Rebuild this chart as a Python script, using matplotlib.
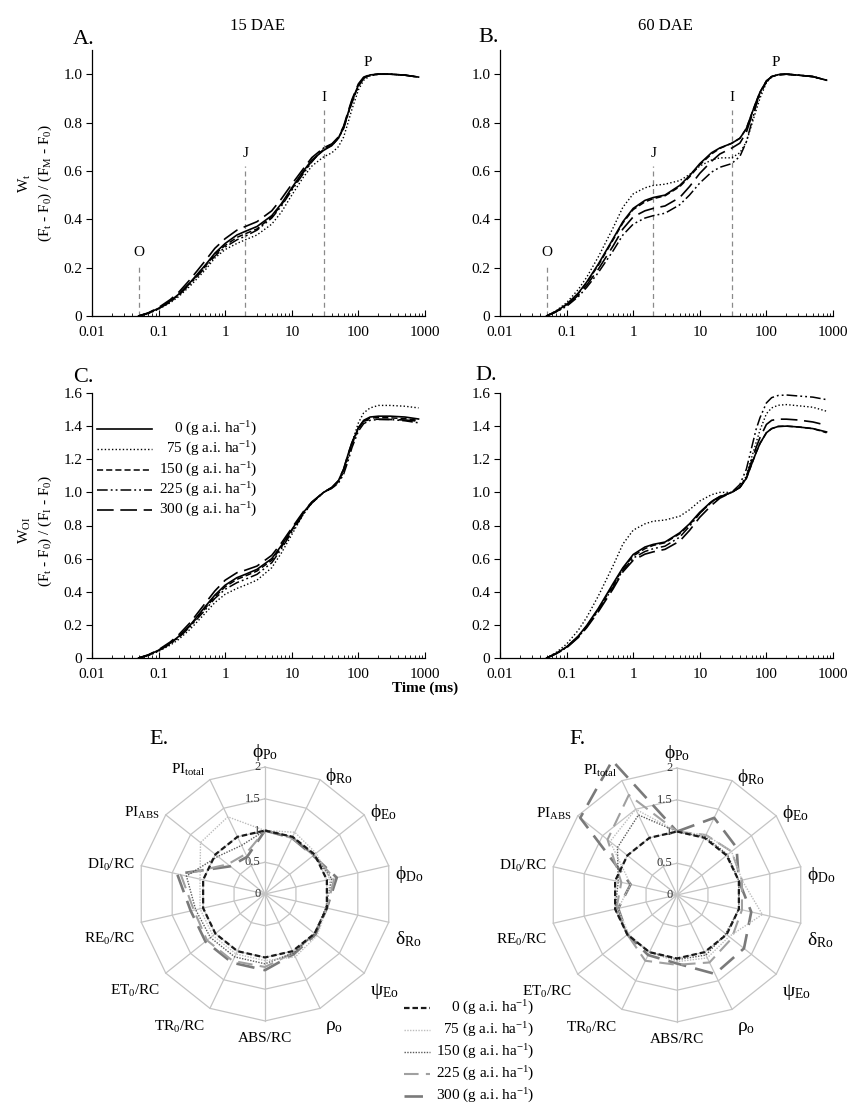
import matplotlib
matplotlib.use('Agg')
import numpy as np
import matplotlib.pyplot as plt
from matplotlib.lines import Line2D
from matplotlib.ticker import LogLocator, NullFormatter

plt.rcParams['font.family'] = ['Liberation Serif', 'DejaVu Serif']
plt.rcParams['mathtext.fontset'] = 'custom'
plt.rcParams['mathtext.rm'] = 'Liberation Serif'
plt.rcParams['mathtext.it'] = 'Liberation Serif'
plt.rcParams['mathtext.bf'] = 'Liberation Serif:bold'

# ---------------- DATA ----------------
doses = ['0', '75', '150', '225', '300']
time_ms = [0.05, 0.07, 0.1, 0.15, 0.2, 0.3, 0.5, 0.7, 1, 1.5, 2, 3, 5, 7, 10, 15, 20, 30,
           40, 50, 60, 70, 80, 100, 120, 150, 200, 300, 500, 800]

# Panel A: W_t, 15 DAE
a_0 = [0, 0.012, 0.032, 0.062, 0.09, 0.14, 0.21, 0.26, 0.30, 0.335, 0.35, 0.37, 0.415, 0.465, 0.53, 0.60, 0.645, 0.685,
       0.705, 0.735, 0.78, 0.84, 0.89, 0.955, 0.985, 0.997, 1.0, 1.0, 0.996, 0.988]
a_75 = [0, 0.010, 0.028, 0.055, 0.08, 0.125, 0.19, 0.24, 0.275, 0.30, 0.315, 0.335, 0.38, 0.43, 0.50, 0.575, 0.62, 0.658,
        0.675, 0.70, 0.74, 0.80, 0.855, 0.935, 0.975, 0.993, 1.0, 1.0, 0.996, 0.988]
a_150 = [0, 0.012, 0.030, 0.060, 0.088, 0.137, 0.205, 0.255, 0.292, 0.325, 0.34, 0.36, 0.41, 0.46, 0.525, 0.595, 0.64, 0.69,
         0.705, 0.735, 0.78, 0.838, 0.887, 0.952, 0.984, 0.996, 1.0, 1.0, 0.996, 0.988]
a_225 = [0, 0.011, 0.030, 0.058, 0.085, 0.133, 0.20, 0.248, 0.285, 0.315, 0.33, 0.355, 0.405, 0.455, 0.52, 0.59, 0.637, 0.695,
         0.71, 0.735, 0.775, 0.833, 0.882, 0.95, 0.983, 0.996, 1.0, 1.0, 0.996, 0.988]
a_300 = [0, 0.013, 0.035, 0.068, 0.098, 0.152, 0.228, 0.28, 0.32, 0.355, 0.37, 0.39, 0.435, 0.485, 0.545, 0.61, 0.655, 0.695,
         0.712, 0.74, 0.785, 0.845, 0.895, 0.96, 0.988, 0.998, 1.0, 1.0, 0.996, 0.988]

# Panel B: W_t, 60 DAE
b_0 = [0, 0.02, 0.048, 0.095, 0.14, 0.215, 0.32, 0.39, 0.445, 0.478, 0.49, 0.50, 0.54, 0.58, 0.63, 0.675, 0.695, 0.714,
       0.735, 0.775, 0.835, 0.885, 0.925, 0.972, 0.99, 0.998, 1.0, 0.996, 0.99, 0.975]
b_75 = [0, 0.022, 0.055, 0.11, 0.16, 0.245, 0.365, 0.45, 0.505, 0.53, 0.54, 0.545, 0.56, 0.585, 0.62, 0.645, 0.654, 0.654,
        0.675, 0.72, 0.79, 0.85, 0.90, 0.965, 0.988, 0.998, 1.0, 0.996, 0.99, 0.975]
b_150 = [0, 0.02, 0.047, 0.093, 0.137, 0.21, 0.315, 0.385, 0.44, 0.472, 0.485, 0.497, 0.535, 0.575, 0.625, 0.67, 0.693, 0.714,
         0.735, 0.775, 0.835, 0.885, 0.925, 0.972, 0.99, 0.998, 1.0, 0.996, 0.99, 0.975]
b_225 = [0, 0.017, 0.04, 0.08, 0.118, 0.18, 0.27, 0.335, 0.38, 0.405, 0.415, 0.425, 0.46, 0.50, 0.55, 0.595, 0.615, 0.63,
         0.66, 0.72, 0.80, 0.87, 0.915, 0.97, 0.99, 0.998, 1.0, 0.996, 0.99, 0.975]
b_300 = [0, 0.018, 0.043, 0.086, 0.127, 0.194, 0.29, 0.36, 0.41, 0.435, 0.445, 0.455, 0.49, 0.535, 0.59, 0.64, 0.67, 0.694,
         0.715, 0.76, 0.825, 0.88, 0.92, 0.97, 0.99, 0.998, 1.0, 0.996, 0.99, 0.975]

# Panel C: W_OI, 15 DAE
c_0 = [0, 0.018, 0.047, 0.09, 0.13, 0.20, 0.31, 0.38, 0.44, 0.485, 0.505, 0.535, 0.60, 0.68, 0.775, 0.88, 0.94, 1.0,
       1.03, 1.07, 1.14, 1.23, 1.30, 1.39, 1.435, 1.455, 1.46, 1.46, 1.455, 1.443]
c_75 = [0, 0.014, 0.04, 0.078, 0.112, 0.175, 0.27, 0.335, 0.385, 0.42, 0.44, 0.47, 0.545, 0.635, 0.745, 0.87, 0.935, 1.0,
        1.025, 1.06, 1.12, 1.21, 1.30, 1.42, 1.48, 1.51, 1.525, 1.525, 1.52, 1.51]
c_150 = [0, 0.017, 0.045, 0.088, 0.127, 0.196, 0.30, 0.37, 0.43, 0.475, 0.495, 0.525, 0.59, 0.67, 0.77, 0.875, 0.938, 1.0,
         1.028, 1.065, 1.13, 1.22, 1.29, 1.385, 1.43, 1.448, 1.452, 1.45, 1.445, 1.435]
c_225 = [0, 0.016, 0.043, 0.085, 0.122, 0.19, 0.29, 0.36, 0.415, 0.455, 0.475, 0.505, 0.575, 0.66, 0.76, 0.87, 0.935, 1.0,
         1.025, 1.055, 1.11, 1.19, 1.27, 1.37, 1.415, 1.435, 1.44, 1.44, 1.432, 1.42]
c_300 = [0, 0.019, 0.05, 0.097, 0.14, 0.215, 0.33, 0.405, 0.47, 0.515, 0.53, 0.555, 0.62, 0.695, 0.785, 0.885, 0.942, 1.0,
         1.03, 1.07, 1.14, 1.23, 1.30, 1.39, 1.43, 1.44, 1.442, 1.44, 1.437, 1.43]

# Panel D: W_OI, 60 DAE
d_0 = [0, 0.028, 0.067, 0.133, 0.196, 0.30, 0.45, 0.545, 0.625, 0.67, 0.686, 0.70, 0.756, 0.81, 0.88, 0.945, 0.973, 1.0,
       1.03, 1.085, 1.17, 1.24, 1.295, 1.36, 1.385, 1.398, 1.4, 1.395, 1.385, 1.365]
d_75 = [0, 0.034, 0.084, 0.168, 0.245, 0.375, 0.558, 0.688, 0.772, 0.81, 0.826, 0.833, 0.856, 0.895, 0.948, 0.986, 1.0, 1.0,
        1.032, 1.10, 1.21, 1.30, 1.375, 1.475, 1.51, 1.526, 1.53, 1.523, 1.514, 1.49]
d_150 = [0, 0.028, 0.066, 0.13, 0.192, 0.294, 0.44, 0.54, 0.616, 0.66, 0.68, 0.696, 0.75, 0.805, 0.875, 0.94, 0.97, 1.0,
         1.03, 1.085, 1.17, 1.24, 1.295, 1.36, 1.385, 1.398, 1.4, 1.395, 1.385, 1.36]
d_225 = [0, 0.027, 0.063, 0.127, 0.187, 0.286, 0.43, 0.53, 0.603, 0.643, 0.66, 0.675, 0.73, 0.795, 0.873, 0.945, 0.976, 1.0,
         1.048, 1.14, 1.27, 1.38, 1.45, 1.54, 1.572, 1.585, 1.588, 1.582, 1.575, 1.56]
d_300 = [0, 0.026, 0.062, 0.124, 0.183, 0.28, 0.418, 0.52, 0.59, 0.627, 0.641, 0.656, 0.706, 0.77, 0.85, 0.922, 0.965, 1.0,
         1.03, 1.095, 1.19, 1.27, 1.33, 1.41, 1.435, 1.442, 1.442, 1.437, 1.425, 1.405]

# OJIP markers
step_names = ['O', 'J', 'I']
step_times = [0.05, 2, 30]
step_tops = [0.21, 0.62, 0.85]
peak_time = 140
peak_label_y = 1.05

x_ticks = [0.01, 0.1, 1, 10, 100, 1000]
x_tick_labels = ['0.01', '0.1', '1', '10', '100', '1000']
wt_ticks = [0, 0.2, 0.4, 0.6, 0.8, 1.0]
wt_tick_labels = ['0', '0.2', '0.4', '0.6', '0.8', '1.0']
woi_ticks = [0, 0.2, 0.4, 0.6, 0.8, 1.0, 1.2, 1.4, 1.6]
woi_tick_labels = ['0', '0.2', '0.4', '0.6', '0.8', '1.0', '1.2', '1.4', '1.6']

# Radar (JIP-test parameters, relative to control)
radar_params = [r'$\phi_{\mathrm{Po}}$', r'$\phi_{\mathrm{Ro}}$', r'$\phi_{\mathrm{Eo}}$', r'$\phi_{\mathrm{Do}}$',
                r'$\delta_{\mathrm{Ro}}$', r'$\psi_{\mathrm{Eo}}$', r'$\rho_{\mathrm{o}}$', 'ABS/RC',
                r'TR$_{0}$/RC', r'ET$_{0}$/RC', r'RE$_{0}$/RC', r'DI$_{0}$/RC',
                r'PI$_{\mathrm{ABS}}$', r'PI$_{\mathrm{total}}$']
radar_rings = [0.5, 1.0, 1.5, 2.0]
radar_ring_labels = ['0', '0.5', '1', '1.5', '2']
radar_ring_label_pos = [0, 0.5, 1.0, 1.5, 2.0]

e_0 = [1.0] * 14
e_75 = [1.0, 1.08, 1.03, 1.05, 1.0, 1.05, 1.1, 1.05, 1.05, 1.05, 1.05, 1.05, 1.3, 1.35]
e_150 = [1.0, 1.0, 0.98, 1.08, 0.98, 1.0, 1.03, 1.1, 1.1, 1.1, 1.12, 1.27, 0.95, 0.85]
e_225 = [1.0, 0.98, 0.98, 1.12, 1.0, 1.0, 1.03, 1.15, 1.17, 1.17, 1.15, 1.36, 0.75, 0.7]
e_300 = [1.0, 0.98, 0.97, 1.16, 1.0, 1.02, 1.05, 1.2, 1.2, 1.2, 1.2, 1.42, 0.7, 0.65]

f_0 = [1.0] * 14
f_75 = [1.0, 1.05, 1.1, 1.05, 1.38, 1.05, 1.1, 1.05, 1.0, 0.98, 0.95, 0.75, 1.35, 1.5]
f_150 = [1.0, 1.02, 1.02, 1.0, 1.0, 0.98, 1.05, 1.02, 1.0, 1.0, 1.0, 0.95, 1.2, 1.4]
f_225 = [1.0, 1.05, 1.1, 1.05, 1.05, 1.1, 1.18, 1.1, 1.15, 1.0, 0.98, 0.9, 1.4, 1.75]
f_300 = [1.0, 1.35, 1.2, 1.0, 1.2, 1.35, 1.38, 1.08, 1.05, 1.0, 0.95, 0.75, 1.95, 2.35]

# ---------------- STYLES ----------------
W, H = 848, 1106
fig = plt.figure(figsize=(W / 100, H / 100), dpi=100)


def rect(l, t, r, b):
    return [l / W, 1 - b / H, (r - l) / W, (b - t) / H]


def fxy(px, py):
    return px / W, 1 - py / H


curve_styles = [
    dict(ls='-', lw=1.2),
    dict(ls=(0, (1, 1.6)), lw=1.0),
    dict(ls=(0, (4, 2)), lw=1.1),
    dict(ls=(0, (7, 2, 1.2, 2, 1.2, 2)), lw=1.1),
    dict(ls=(0, (10, 4)), lw=1.2),
]
radar_styles = [
    dict(color='#1a1a1a', ls=(0, (2.5, 1.3)), lw=1.6),
    dict(color='#bdbdbd', ls=(0, (1, 1)), lw=1.0),
    dict(color='#5a5a5a', ls=(0, (1, 1)), lw=1.0),
    dict(color='#a0a0a0', ls=(0, (7, 3.5)), lw=1.5),
    dict(color='#7a7a7a', ls=(0, (7, 3.5)), lw=1.9),
]

FS = 11


def style_ojip(ax, ymax, yt, ytl):
    ax.set_xscale('log')
    ax.set_xlim(0.01, 1000)
    ax.set_ylim(0, ymax)
    for s in ['top', 'right']:
        ax.spines[s].set_visible(False)
    for s in ['left', 'bottom']:
        ax.spines[s].set_linewidth(0.9)
    ax.set_xticks(x_ticks, x_tick_labels)
    ax.xaxis.set_minor_locator(LogLocator(base=10, subs=np.arange(2, 10) * 1.0, numticks=30))
    ax.xaxis.set_minor_formatter(NullFormatter())
    ax.set_yticks(yt, ytl)
    ax.tick_params(axis='x', which='major', direction='in', length=4, pad=7, labelsize=FS)
    ax.tick_params(axis='x', which='minor', direction='in', length=2)
    ax.tick_params(axis='y', which='major', direction='out', length=4, pad=3, labelsize=FS)


panels = [
    (rect(92, 50, 425, 316), [a_0, a_75, a_150, a_225, a_300], 1.1, wt_ticks, wt_tick_labels, True),
    (rect(500, 50, 833, 316), [b_0, b_75, b_150, b_225, b_300], 1.1, wt_ticks, wt_tick_labels, True),
    (rect(92, 393, 425, 658), [c_0, c_75, c_150, c_225, c_300], 1.6, woi_ticks, woi_tick_labels, False),
    (rect(500, 393, 833, 658), [d_0, d_75, d_150, d_225, d_300], 1.6, woi_ticks, woi_tick_labels, False),
]
axes = []
for pos, series, ymax, yt, ytl, marks in panels:
    ax = fig.add_axes(pos)
    style_ojip(ax, ymax, yt, ytl)
    if marks:
        for name, tt, top in zip(step_names, step_times, step_tops):
            ax.plot([tt, tt], [0, top], color='#8a8a8a', ls=(0, (4, 3)), lw=0.9)
            ax.text(tt, top + 0.025, name, ha='center', va='bottom', fontsize=FS)
        ax.text(peak_time, peak_label_y, 'P', ha='center', va='center', fontsize=FS)
    for vals, st in zip(series, curve_styles):
        ax.plot(time_ms, vals, color='black', **st)
    axes.append(ax)

axA, axB, axC, axD = axes

# y labels
axA.set_ylabel('W$_{\\mathrm{t}}$\n(F$_{\\mathrm{t}}$ - F$_{0}$) / (F$_{\\mathrm{M}}$ - F$_{0}$)',
               fontsize=FS, linespacing=1.3)
axA.yaxis.set_label_coords(-0.115, 0.5)
axC.set_ylabel('W$_{\\mathrm{OI}}$\n(F$_{\\mathrm{t}}$ - F$_{0}$) / (F$_{\\mathrm{I}}$ - F$_{0}$)',
               fontsize=FS, linespacing=1.3)
axC.yaxis.set_label_coords(-0.115, 0.48)

# titles / panel letters
fig.text(*fxy(258, 26), '15 DAE', ha='center', va='center', fontsize=FS + 1)
fig.text(*fxy(665, 26), '60 DAE', ha='center', va='center', fontsize=FS + 1)
for lab, (px, py) in zip(['A.', 'B.', 'C.', 'D.', 'E.', 'F.'],
                         [(84, 40), (489, 38), (83, 378), (486, 376), (159, 740), (578, 740)]):
    fig.text(*fxy(px, py), lab, ha='center', va='center', fontsize=16)
fig.text(*fxy(425, 688), 'Time (ms)', ha='center', va='center', fontsize=FS, fontweight='bold')

# legend in panel C (drawn manually to right-align labels)
leg_labels = [d + r' (g a.i. ha$^{-1}$)' for d in doses]
for k, (lab, st) in enumerate(zip(leg_labels, curve_styles)):
    py = 429 + 20.3 * k
    x0, y0 = fxy(97, py)
    x1, _ = fxy(152, py)
    fig.add_artist(Line2D([x0, x1], [y0, y0], color='black', transform=fig.transFigure, **st))
    fig.text(*fxy(257, py), lab, ha='right', va='center', fontsize=FS)

# ---------------- RADAR ----------------
n_ax = len(radar_params)
theta = 2 * np.pi * np.arange(n_ax) / n_ax
sx, cy = np.sin(theta), np.cos(theta)


def radar(pos, series):
    ax = fig.add_axes(pos)
    ax.set_xlim(-2.6, 2.6)
    ax.set_ylim(-2.6, 2.6)
    ax.axis('off')
    grid_c = '#c4c4c4'
    for r in radar_rings:
        ax.plot(np.append(r * sx, r * sx[0]), np.append(r * cy, r * cy[0]), color=grid_c, lw=0.9, zorder=1)
    for i in range(n_ax):
        ax.plot([0, 2 * sx[i]], [0, 2 * cy[i]], color=grid_c, lw=0.9, zorder=1)
    for lab, r in zip(radar_ring_labels, radar_ring_label_pos):
        ax.text(-0.07, r, lab, ha='right', va='center', fontsize=9, color='#333333', zorder=2)
    order = [4, 3, 2, 1, 0]
    for k in order:
        vals = np.array(series[k])
        xs = np.append(vals * sx, vals[0] * sx[0])
        ys = np.append(vals * cy, vals[0] * cy[0])
        ax.plot(xs, ys, clip_on=False, zorder=3 + (4 - k) * 0.1, **radar_styles[k])
    for i, lab in enumerate(radar_params):
        x = 2.05 * sx[i]
        y = 2.05 * cy[i]
        if sx[i] > 0.15:
            ha = 'left'
            x += 0.05
        elif sx[i] < -0.15:
            ha = 'right'
            x -= 0.05
        else:
            ha = 'center'
        va = 'center'
        if i == 0:
            va = 'bottom'
            y += 0.02
        elif i == 7:
            va = 'top'
            y -= 0.12
        elif cy[i] < 0:
            y -= 0.25
        elif i == 3:
            y -= 0.15
        elif i == 13:
            y += 0.1
        fs = 14 if lab.startswith('$') else FS
        ax.text(x, y, lab, ha=ha, va=va, fontsize=fs)
    return ax


radar(rect(100, 729, 430, 1059), [e_0, e_75, e_150, e_225, e_300])
radar(rect(512, 730, 842, 1060), [f_0, f_75, f_150, f_225, f_300])

# radar legend
for k, (lab, st) in enumerate(zip(leg_labels, radar_styles)):
    py = 1008 + 22 * k
    x0, y0 = fxy(404, py)
    x1, _ = fxy(430, py)
    fig.add_artist(Line2D([x0, x1], [y0, y0], transform=fig.transFigure, **st))
    fig.text(*fxy(534, py), lab, ha='right', va='center', fontsize=FS)

fig.savefig('out.png', dpi=100)
